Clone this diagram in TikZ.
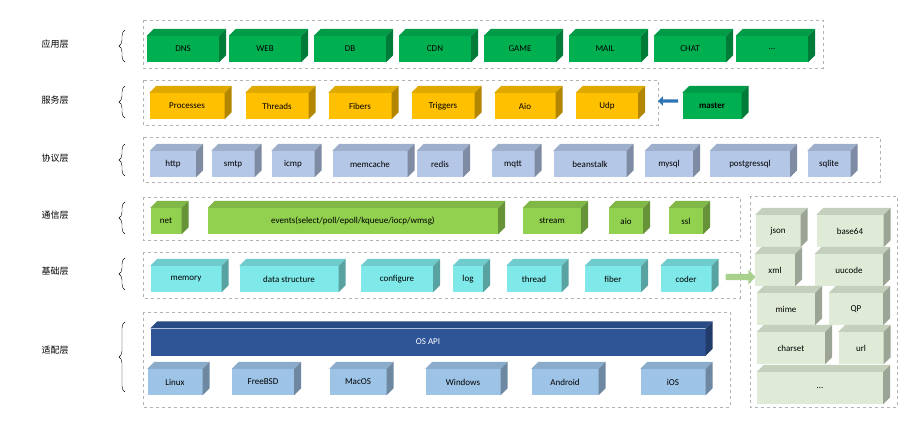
\documentclass[tikz,border=0pt]{standalone}
\usepackage{fontspec}
\setmainfont{Carlito}
\newfontfamily\cjk{Noto Sans CJK SC}
\usetikzlibrary{positioning,shapes.arrows,decorations.pathreplacing}

\definecolor{appc}{HTML}{00B050}
\definecolor{srvc}{HTML}{FFC000}
\definecolor{proc}{HTML}{B4C7E7}
\definecolor{comc}{HTML}{92D050}
\definecolor{basc}{HTML}{7FE8E8}
\definecolor{apic}{HTML}{2F5597}
\definecolor{osc}{HTML}{9DC3E6}
\definecolor{utlc}{HTML}{DFEBD6}
\definecolor{arrb}{HTML}{2E75B6}
\definecolor{arrg}{HTML}{A9D18E}

\tikzset{
  blk/.style={inner sep=0pt, minimum height=26pt, font=\small},
  frame/.style={draw=black!30, dashed, very thin},
  lay/.style={font=\cjk\small},
}
\newcommand\faces[2]{%
  \fill[#2!88!black] (#1.north west) -- ++(7,-7) -- ([shift={(7,-7)}]#1.north east) -- (#1.north east) -- cycle;
  \fill[#2!70!black] (#1.north east) -- ++(7,-7) -- ([shift={(7,-7)}]#1.south east) -- (#1.south east) -- cycle;}

\begin{document}
\begin{tikzpicture}[x=1pt, y=-1pt]
\useasboundingbox (0,0) rectangle (910,430);
% frames
\draw[frame] (143,20) rectangle (823,68);
\draw[frame] (143,80) rectangle (658,125);
\draw[frame] (143,137) rectangle (880,182);
\draw[frame] (143,197) rectangle (740,240);
\draw[frame] (143,252) rectangle (740,298);
\draw[frame] (143,312) rectangle (730,407);
\draw[frame] (750,196) rectangle (897,407);
%
\foreach \n/\y/\a/\b [count=\i] in {应用层/44/30/62, 服务层/100/86/118, 协议层/158/144/176,
                                     通信层/215/202/234, 基础层/271/258/290, 适配层/350/322/392}
{
  \node[lay] (lay\i) at (55,\y) {\n};
  \draw[decorate, decoration={brace, amplitude=6pt}] (125,\b) -- (125,\a);
}
% application
\foreach \n/\x/\t in {dns/183/DNS, web/265/WEB, db/350/DB, cdn/435/CDN, game/520/GAME,
                      mail/605/MAIL, chat/690/CHAT, more/772/{\ldots}}
{
  \node[blk, fill=appc, minimum width=72pt] (\n) at (\x,49) {\t};
  \faces{\n}{appc}
}
% services
\foreach \n/\x/\w/\t in {proc/187/75/Processes, thr/277/63/Threads, fib/360/63/Fibers,
                         trig/443/63/Triggers, aio/525/61/Aio, udp/607/62/Udp}
{
  \node[blk, fill=srvc, minimum width=\w pt] (\n) at (\x,106) {\t};
  \faces{\n}{srvc}
}
\node[blk, fill=appc, minimum width=59pt, font=\small\bfseries] (master) at (712,106) {master};
\faces{master}{appc}
\node[single arrow, fill=arrb, minimum height=20pt, single arrow head extend=3pt,
      inner sep=1.5pt, shape border rotate=180] (arr1) at (669,101) {};
% protocols
\foreach \n/\x/\w/\t in {http/173/46/http, smtp/233/43/smtp, icmp/293/43/icmp,
                         memc/370/75/memcache, redis/440/46/redis, mqtt/513/43/mqtt,
                         bean/590/73/beanstalk, mysql/669/48/mysql, pgsql/750/80/postgressql,
                         sqlite/829/43/sqlite}
{
  \node[blk, fill=proc, minimum width=\w pt] (\n) at (\x,164) {\t};
  \faces{\n}{proc}
}
% communication
\foreach \n/\x/\w/\t in {net/166/31/net, evt/353/290/{events(select/poll/epoll/kqueue/iocp/wmsg)},
                         strm/552/58/stream, caio/626/34/aio, ssl/686/34/ssl}
{
  \node[blk, fill=comc, minimum width=\w pt] (\n) at (\x,221) {\t};
  \faces{\n}{comc}
}
% base
\foreach \n/\x/\w/\t in {mem/186/71/memory, ds/289/99/data structure, cfg/397/72/configure,
                         log/468/30/log, bthr/534/55/thread, bfib/613/56/fiber, coder/686/51/coder}
{
  \node[blk, fill=basc, minimum width=\w pt] (\n) at (\x,279) {\t};
  \faces{\n}{basc}
}
\node[single arrow, fill=arrg, minimum height=30pt, single arrow head extend=4pt,
      inner sep=3pt] (arr2) at (739,277) {};
% adapter
\node[blk, fill=apic, minimum width=555pt, minimum height=27pt, text=white] (api) at (428,342) {OS API};
\faces{api}{apic}
\foreach \n/\x/\w/\t in {linux/175/55/Linux, fbsd/263/62/FreeBSD, macos/358/57/MacOS,
                         win/463/75/Windows, andr/565/67/Android, ios/673/65/iOS}
{
  \node[blk, fill=osc, minimum width=\w pt] (\n) at (\x,382) {\t};
  \faces{\n}{osc}
}
% utilities
\foreach \n/\x/\y/\w/\t in {json/778/231/45/json, b64/850/231/67/base64, xml/775/270/40/xml,
                            uu/849/270/68/uucode, mime/786/309/58/mime, qp/856/309/54/QP,
                            cs/791/348/68/charset, url/861/348/45/url, dots/820/388/126/{\ldots}}
{
  \node[blk, fill=utlc, minimum width=\w pt, minimum height=32pt] (\n) at (\x,\y) {\t};
  \faces{\n}{utlc}
}
\end{tikzpicture}
\end{document}
